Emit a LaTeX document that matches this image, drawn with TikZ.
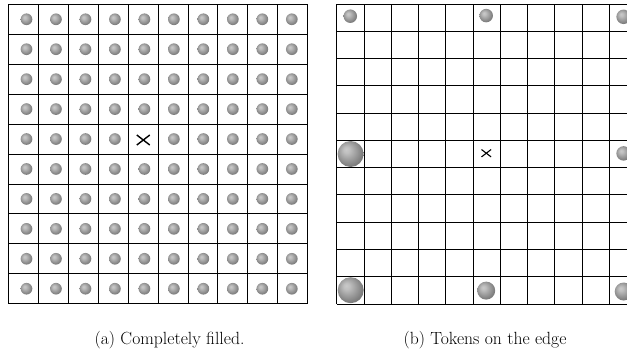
\documentclass[tikz,border=0pt]{standalone}
\usepackage{tikz}
\usetikzlibrary{calc}

% grey token shading: soft light spot upper left, darker grey rim
\pgfdeclareradialshading{tokenshade}{\pgfpoint{-9bp}{9bp}}{%
  color(0bp)=(gray!42);
  color(6bp)=(gray!50);
  color(16bp)=(gray!75);
  color(26bp)=(gray);
  color(38bp)=(gray!80!black);
  color(50bp)=(gray!60!black)}

\tikzset{
  gridline/.style={line width=0.8bp, black},
  token/.style={circle, inner sep=0pt, shading=tokenshade, minimum size=#1},
  token/.default=11.7bp,
  centremark/.style={line width=#1, black, line cap=butt},
  caption/.style={font=\fontsize{17.7}{21}\selectfont, anchor=base, inner sep=0pt}
}

\begin{document}
\begin{tikzpicture}[x=1bp, y=-1bp]
  \useasboundingbox (0,0) rectangle (627,356);
  \clip (0,0) rectangle (627,356);

  % ---- left board: 10 x 10, every cell filled ----
  \def\lx{8.3}\def\ly{4.3}\def\lc{29.94}
  \foreach \i in {0,...,10} {
    \draw[gridline] ({\lx+\i*\lc},\ly) -- ({\lx+\i*\lc},{\ly+10*\lc});
    \draw[gridline] (\lx,{\ly+\i*\lc}) -- ({\lx+10*\lc},{\ly+\i*\lc});
  }
  \foreach \c in {0,...,9} {
    \foreach \r in {0,...,9} {
      \ifnum\c=4 \ifnum\r=4 \else
        \node[token] (L-\c-\r) at ({26.5+\c*29.48},{\ly+(\r+0.5)*\lc}) {};
      \fi\else
        \node[token] (L-\c-\r) at ({26.5+\c*29.48},{\ly+(\r+0.5)*\lc}) {};
      \fi
    }
  }
  % centre mark of the left board
  \coordinate (Lx) at (143.3,140);
  \draw[centremark=1.4bp] ($(Lx)+(-6.5,-5)$) -- ($(Lx)+(6.5,5)$);
  \draw[centremark=1.4bp] ($(Lx)+(-6.5,5)$) -- ($(Lx)+(6.5,-5)$);

  % ---- right board: 11 x 11, tokens on the edge ----
  \def\rx{336.7}\def\ry{4}\def\rc{27.27}
  \foreach \i in {0,...,11} {
    \draw[gridline] ({\rx+\i*\rc},\ry) -- ({\rx+\i*\rc},{\ry+11*\rc});
    \draw[gridline] (\rx,{\ry+\i*\rc}) -- ({\rx+11*\rc},{\ry+\i*\rc});
  }
  \node[token=13.5bp] (R-tl) at (350.3,16.2) {};
  \node[token=13.5bp] (R-tm) at (486.2,15.6) {};
  \node[token=14.5bp] (R-tr) at (623.6,16.8) {};
  \node[token=26bp]   (R-ml) at (350.6,154) {};
  \node[token=14.5bp] (R-mr) at (623.6,153.4) {};
  \node[token=26bp]   (R-bl) at (350.7,290.2) {};
  \node[token=18bp]   (R-bm) at (486.2,290.6) {};
  \node[token=18bp]   (R-br) at (623.7,291.5) {};
  % centre mark of the right board
  \coordinate (Rx) at (486.3,153.2);
  \draw[centremark=1.1bp] ($(Rx)+(-4.8,-3.7)$) -- ($(Rx)+(4.8,3.7)$);
  \draw[centremark=1.1bp] ($(Rx)+(-4.8,3.7)$) -- ($(Rx)+(4.8,-3.7)$);

  % ---- captions ----
  \node[caption] (capA) at (169.5,344) {(a) Completely filled.};
  \node[caption] (capB) at (485,344) {(b) Tokens on the edge};
\end{tikzpicture}
\end{document}
